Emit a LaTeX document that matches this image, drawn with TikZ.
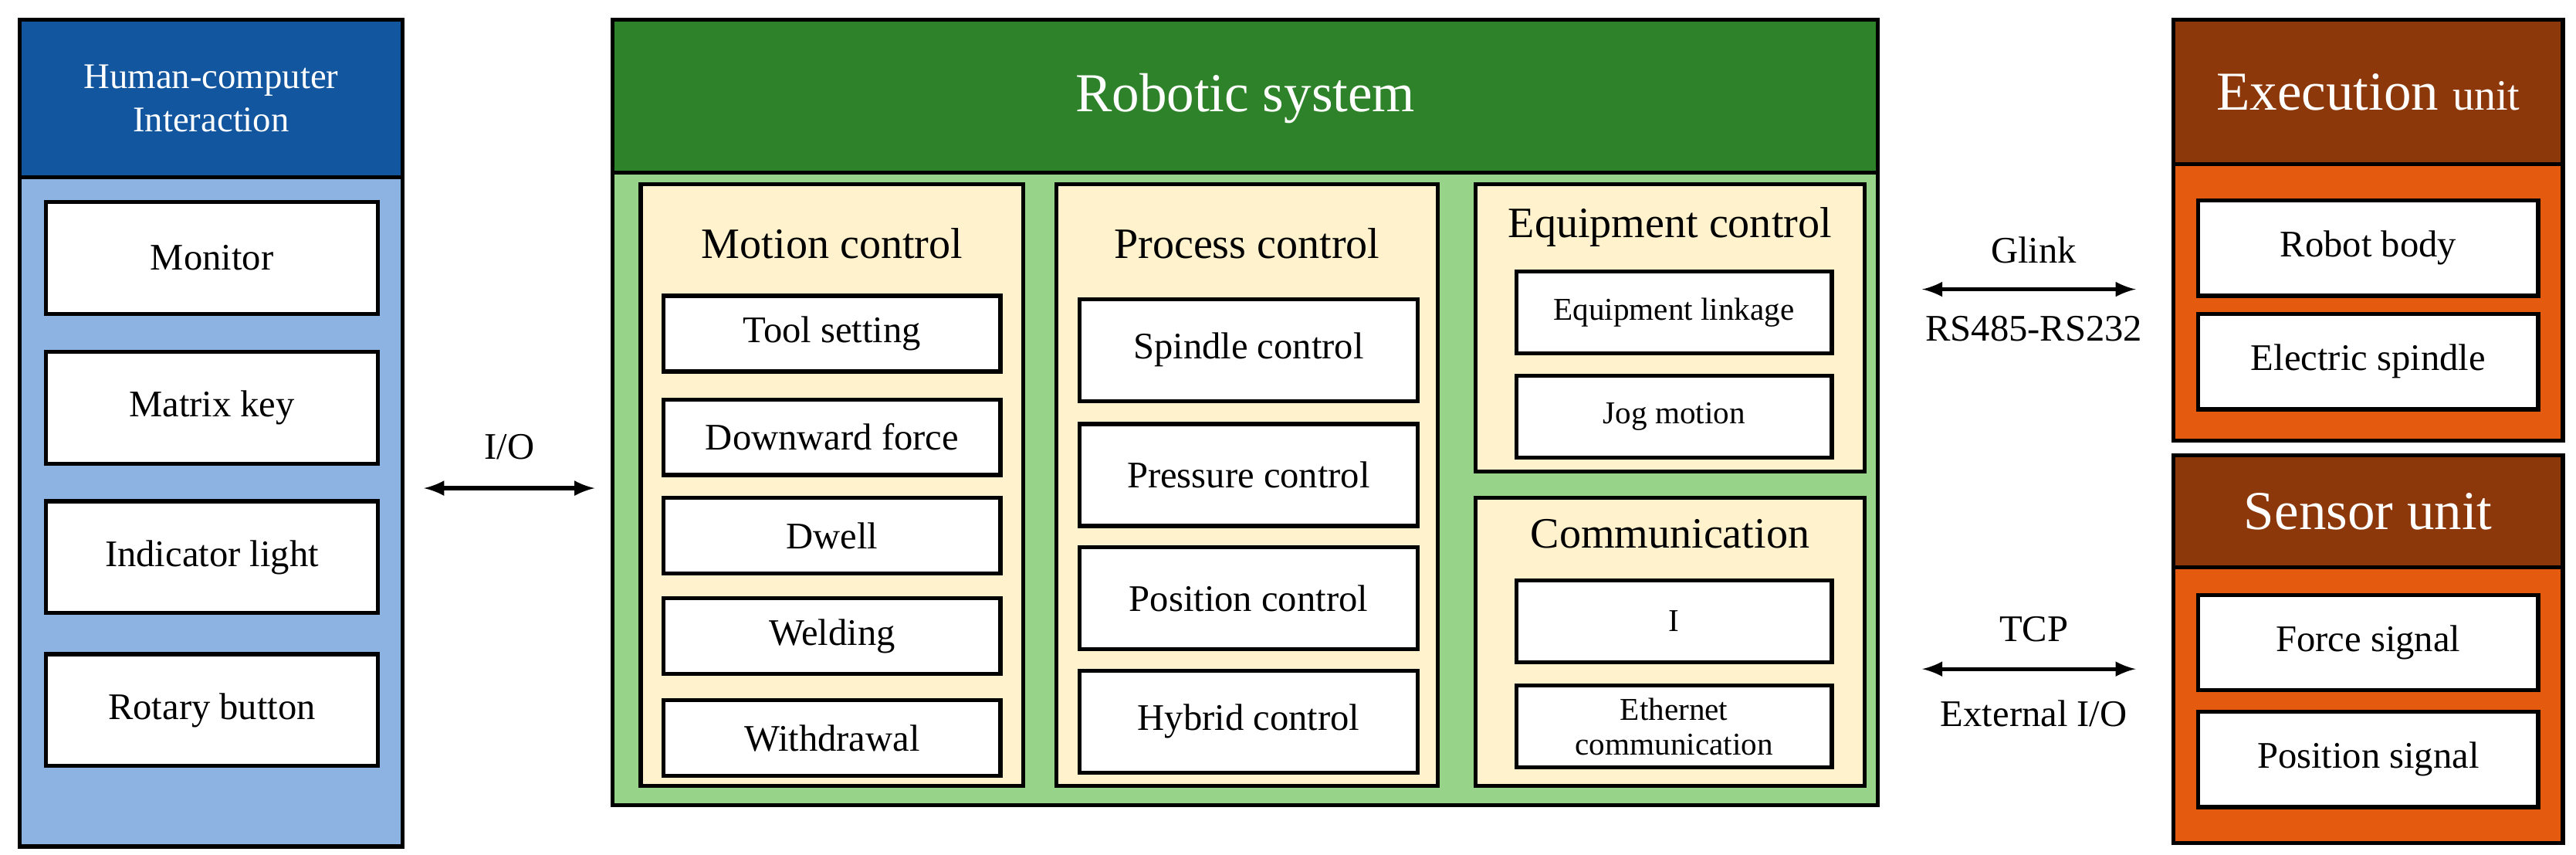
\documentclass[tikz,border=0pt]{standalone}
\usepackage{fontspec}
\setmainfont{Liberation Serif}
\begin{document}
\begin{tikzpicture}[x=0.02cm,y=-0.02cm]
	\definecolor{hciblue}{RGB}{18,86,160}
	\definecolor{hcilight}{RGB}{141,179,226}
	\definecolor{robgreen}{RGB}{46,130,42}
	\definecolor{roblight}{RGB}{152,211,138}
	\definecolor{cream}{RGB}{255,242,204}
	\definecolor{unitbrown}{RGB}{140,56,10}
	\definecolor{unitorange}{RGB}{228,90,14}
	\tikzstyle{panel}=[draw=black,line width=1.4pt]
	\tikzstyle{item}=[draw=black,line width=1.4pt,fill=white,font=\fontsize{13}{14}\selectfont,align=center,inner sep=1pt]
	\tikzstyle{title}=[font=\fontsize{15}{16}\selectfont]
	\tikzstyle{head}=[font=\fontsize{19}{20}\selectfont,text=white]
	\tikzstyle{link}=[<->,>=latex,line width=1.4pt]
	\tikzstyle{lab}=[font=\fontsize{13}{14}\selectfont]
	\useasboundingbox (0,0) rectangle (1568,520);

	% human-computer interaction
	\draw [panel,fill=hcilight] (12,108) rectangle (245,515);
	\draw [panel,fill=hciblue] (12,12) rectangle (245,108);
	\node [head,font=\fontsize{12.5}{15}\selectfont,align=center] (hci) at (128.5,60) {Human-computer\\Interaction};
	\foreach \name/\y/\txt in {monitor/157/Monitor,matrix/248/Matrix key,light/339/Indicator light,rotary/432/Rotary button}
	  \node [item,minimum width=4.04cm,minimum height=1.36cm] (\name) at (129,\y) {\txt};

	% robotic system
	\draw [panel,fill=roblight] (373,105) rectangle (1143,490);
	\draw [panel,fill=robgreen] (373,12) rectangle (1143,105);
	\node [head] (robot) at (758,60) {Robotic system};
	\draw [panel,fill=cream] (390,112) rectangle (623,478);
	\draw [panel,fill=cream] (643,112) rectangle (875,478);
	\draw [panel,fill=cream] (898,112) rectangle (1135,287);
	\draw [panel,fill=cream] (898,303) rectangle (1135,478);
	\node [title] (motion) at (506.5,148) {Motion control};
	\node [title] (process) at (759,148) {Process control};
	\node [title] (equip) at (1016.5,138) {Equipment control};
	\node [title] (comm) at (1016.5,325) {Communication};
	\foreach \name/\y/\txt in {tool/203/Tool setting,down/266/Downward force,dwell/326/Dwell,weld/387/Welding,withdraw/449/Withdrawal}
	  \node [item,minimum width=4.1cm,minimum height=0.92cm] (\name) at (506.5,\y) {\txt};
	\foreach \name/\y/\txt in {spindle/213/Spindle control,pressure/289/Pressure control,position/364/Position control,hybrid/439/Hybrid control}
	  \node [item,minimum width=4.12cm,minimum height=1.24cm] (\name) at (760,\y) {\txt};
	\foreach \name/\y/\txt in {linkage/190/Equipment linkage,jog/253.5/Jog motion,iosig/378/I/O signals,ether/442/Ethernet\\communication}
	  \node [item,font=\fontsize{11}{12}\selectfont,minimum width=3.84cm,minimum height=1.0cm] (\name) at (1019,\y) {\txt};

	% execution and sensor units
	\draw [panel,fill=unitorange] (1323,100) rectangle (1560,268);
	\draw [panel,fill=unitbrown] (1323,12) rectangle (1560,100);
	\draw [panel,fill=unitorange] (1323,345) rectangle (1560,513);
	\draw [panel,fill=unitbrown] (1323,277) rectangle (1560,345);
	\node [head] (exec) at (1441.5,56) {Execution \fontsize{15}{16}\selectfont unit};
	\node [head] (sensor) at (1441.5,311) {Sensor unit};
	\foreach \name/\y/\txt in {body/151/Robot body,espindle/220/Electric spindle,force/391/Force signal,possig/462/Position signal}
	  \node [item,minimum width=4.14cm,minimum height=1.16cm] (\name) at (1441.5,\y) {\txt};

	% links
	\coordinate (io_a) at (258,297);
	\coordinate (io_b) at (362,297);
	\coordinate (gl_a) at (1170,176);
	\coordinate (gl_b) at (1300,176);
	\coordinate (tcp_a) at (1170,407);
	\coordinate (tcp_b) at (1300,407);
	\foreach \source/\dest in {io_a/io_b,gl_a/gl_b,tcp_a/tcp_b}
	  \draw [link] (\source) -- (\dest);
	\node [lab] (io) at (310,272) {I/O};
	\node [lab] (glink) at (1238,152) {Glink};
	\node [lab] (rs) at (1238,200) {RS485-RS232};
	\node [lab] (tcp) at (1238,383) {TCP};
	\node [lab] (ext) at (1238,434) {External I/O};
\end{tikzpicture}
\end{document}
